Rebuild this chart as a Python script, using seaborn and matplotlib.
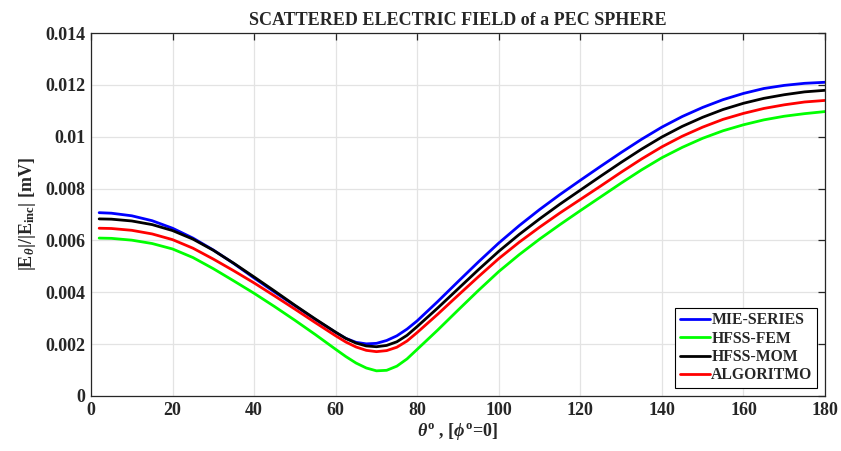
import numpy as np
import pandas as pd
import matplotlib
matplotlib.use("Agg")
import matplotlib.pyplot as plt
import seaborn as sns

# Observation angle theta in degrees (phi = 0 cut)
theta = [2, 5, 10, 15, 20, 25, 30, 35, 40, 45, 50, 55, 60, 62.5, 65, 67.5, 70,
         72.5, 75, 77.5, 80, 85, 90, 95, 100, 105, 110, 115, 120, 125, 130,
         135, 140, 145, 150, 155, 160, 165, 170, 175, 180]

# |E_theta| / |E_inc| in mV for each method
mie_series = [0.00707, 0.00705, 0.00695, 0.00676, 0.00647, 0.00609, 0.00563,
              0.00511, 0.00455, 0.00401, 0.00348, 0.00295, 0.00245, 0.00222,
              0.00207, 0.00201, 0.00203, 0.00214, 0.00232, 0.00258, 0.00290,
              0.00364, 0.00441, 0.00517, 0.00590, 0.00657, 0.00719, 0.00777,
              0.00832, 0.00886, 0.00939, 0.00990, 0.01037, 0.01078, 0.01113,
              0.01143, 0.01167, 0.01186, 0.01198, 0.01206, 0.01210]

hfss_fem = [0.00609, 0.00608, 0.00601, 0.00588, 0.00567, 0.00534, 0.00491,
            0.00444, 0.00396, 0.00345, 0.00292, 0.00237, 0.00180, 0.00152,
            0.00127, 0.00108, 0.00097, 0.00099, 0.00115, 0.00143, 0.00180,
            0.00254, 0.00331, 0.00407, 0.00480, 0.00545, 0.00605, 0.00661,
            0.00715, 0.00768, 0.00821, 0.00872, 0.00919, 0.00959, 0.00994,
            0.01023, 0.01046, 0.01065, 0.01079, 0.01089, 0.01097]

hfss_mom = [0.00683, 0.00682, 0.00675, 0.00661, 0.00638, 0.00605, 0.00562,
            0.00512, 0.00459, 0.00405, 0.00350, 0.00297, 0.00246, 0.00222,
            0.00204, 0.00193, 0.00190, 0.00195, 0.00209, 0.00234, 0.00268,
            0.00339, 0.00413, 0.00487, 0.00558, 0.00623, 0.00683, 0.00740,
            0.00794, 0.00848, 0.00901, 0.00952, 0.00999, 0.01040, 0.01075,
            0.01105, 0.01129, 0.01148, 0.01162, 0.01173, 0.01179]

algoritmo = [0.00647, 0.00646, 0.00639, 0.00625, 0.00603, 0.00570, 0.00528,
             0.00483, 0.00436, 0.00386, 0.00335, 0.00283, 0.00232, 0.00208,
             0.00189, 0.00176, 0.00171, 0.00175, 0.00188, 0.00212, 0.00245,
             0.00315, 0.00388, 0.00460, 0.00530, 0.00593, 0.00651, 0.00706,
             0.00758, 0.00810, 0.00863, 0.00914, 0.00961, 0.01002, 0.01037,
             0.01067, 0.01090, 0.01109, 0.01123, 0.01134, 0.01140]

series_names = ["MIE-SERIES", "HFSS-FEM", "HFSS-MOM", "ALGORITMO"]
series_colors = ["#0000ff", "#00ff00", "#000000", "#ff0000"]

x_ticks = [0, 20, 40, 60, 80, 100, 120, 140, 160, 180]
y_ticks = [0, 0.002, 0.004, 0.006, 0.008, 0.01, 0.012, 0.014]
y_tick_labels = ["0", "0.002", "0.004", "0.006", "0.008", "0.01", "0.012", "0.014"]

frames = []
for name, vals in zip(series_names, [mie_series, hfss_fem, hfss_mom, algoritmo]):
    frames.append(pd.DataFrame({"theta": theta, "E": vals, "method": name}))
df = pd.concat(frames, ignore_index=True)

sns.set_theme(style="whitegrid")
plt.rcParams.update({
    "font.family": ["Liberation Serif", "DejaVu Serif"],
    "font.weight": "bold",
    "axes.labelweight": "bold",
    "axes.titleweight": "bold",
    "mathtext.fontset": "custom",
    "mathtext.rm": "Liberation Serif:bold",
    "mathtext.it": "Liberation Serif:italic:bold",
    "mathtext.bf": "Liberation Serif:bold",
    "axes.edgecolor": "#262626",
    "axes.linewidth": 0.9,
    "grid.color": "#e3e3e3",
    "grid.linewidth": 0.9,
    "xtick.direction": "in",
    "ytick.direction": "in",
    "xtick.top": True,
    "ytick.right": True,
    "xtick.major.size": 5,
    "ytick.major.size": 5,
    "xtick.major.width": 0.9,
    "ytick.major.width": 0.9,
    "xtick.color": "#262626",
    "ytick.color": "#262626",
})

fig = plt.figure(figsize=(8.41, 4.51), dpi=100)
ax = fig.add_axes([0.1082, 0.122, 0.8728, 0.8048])

sns.lineplot(data=df, x="theta", y="E", hue="method", hue_order=series_names,
             palette=dict(zip(series_names, series_colors)), linewidth=2.0,
             ax=ax, sort=False)

ax.set_xlim(0, 180)
ax.set_ylim(0, 0.014)
ax.set_xticks(x_ticks)
ax.set_xticklabels([str(t) for t in x_ticks], fontsize=13, fontweight="bold",
                   color="#262626")
ax.set_yticks(y_ticks)
ax.set_yticklabels(y_tick_labels, fontsize=13, fontweight="bold", color="#262626")
ax.tick_params(axis="both", which="major", pad=4, labelcolor="#262626")

ax.set_title("SCATTERED ELECTRIC FIELD of a PEC SPHERE", fontsize=13,
             fontweight="bold", pad=6)
ax.set_xlabel(r"$\theta^{\mathrm{o}}$ , [$\phi^{\mathrm{o}}$=0]", fontsize=13,
              labelpad=2)
ax.set_ylabel(r"$|\mathrm{E}_{\theta}|/|\mathrm{E}_{\mathrm{inc}}|$ [mV]",
              fontsize=13, labelpad=5)

for spine in ax.spines.values():
    spine.set_visible(True)
    spine.set_color("#262626")

leg = ax.legend(loc="lower right", frameon=True,
                fancybox=False, edgecolor="black", framealpha=1,
                prop={"family": "Liberation Serif", "weight": "bold", "size": 11.3},
                handlelength=1.9, handletextpad=0.1, labelspacing=0.15,
                borderpad=0.3, borderaxespad=0.5)
leg.get_frame().set_linewidth(0.8)
leg.set_title(None)

fig.savefig("out.png", dpi=100)
